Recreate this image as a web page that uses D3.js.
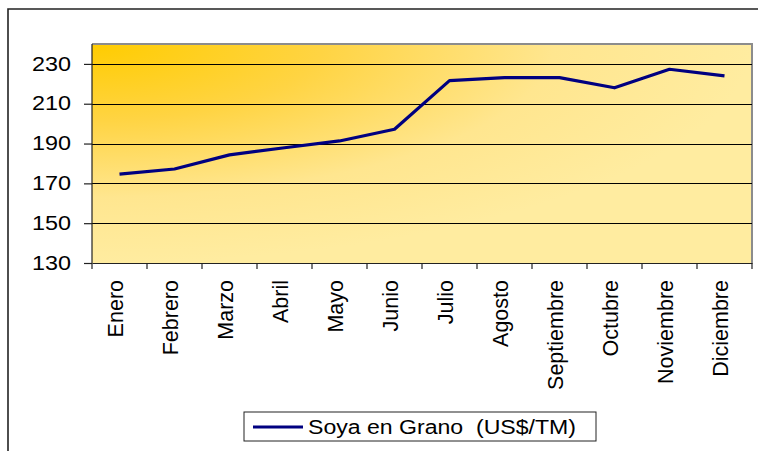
<!DOCTYPE html>
<html>
<head>
<meta charset="utf-8">
<script src="https://cdn.jsdelivr.net/npm/d3@7"></script>
<style>
  body { margin: 0; background: #fff; }
  svg { display: block; font-family: Arial, "Liberation Sans", sans-serif; }
  .grid line { stroke: #000; stroke-width: 1; }
  .axis path, .axis line { stroke: #222; stroke-width: 1.2; }
  .axis text { fill: #000; }
</style>
</head>
<body>
<svg width="758" height="451"></svg>
<script>
// data
var months = ["Enero", "Febrero", "Marzo", "Abril", "Mayo", "Junio",
              "Julio", "Agosto", "Septiembre", "Octubre", "Noviembre", "Diciembre"];
var soya = [174.6, 177.2, 184.3, 187.9, 191.3, 197.2, 221.6, 223.1, 223.1, 218.0, 227.3, 224.0];
var yTicks = [130, 150, 170, 190, 210, 230];
var seriesName = "Soya en Grano  (US$/TM)";

var svg = d3.select("svg");
var margin = {left: 92, top: 44, right: 6, bottom: 188};
var W = 758 - margin.left - margin.right,   // 660
    H = 451 - margin.top - margin.bottom;   // 219

// outer frame (only top and left visible)
svg.append("path")
  .attr("d", "M8,452 L8,9 L760,9")
  .attr("fill", "none").attr("stroke", "#222").attr("stroke-width", 1.6);

var defs = svg.append("defs");
var grad = defs.append("radialGradient")
  .attr("id", "bg").attr("cx", 0).attr("cy", 0).attr("r", 1.0)
  .attr("fx", 0).attr("fy", 0);
grad.append("stop").attr("offset", "0").attr("stop-color", "#ffcc00");
grad.append("stop").attr("offset", "0.35").attr("stop-color", "#ffd443");
grad.append("stop").attr("offset", "0.7").attr("stop-color", "#ffe68f");
grad.append("stop").attr("offset", "1").attr("stop-color", "#ffeca0");

var x = d3.scaleBand().domain(months).range([0, W]);
var y = d3.scaleLinear().domain([130, 240]).range([H, 0]);

var g = svg.append("g").attr("transform", "translate(" + margin.left + "," + margin.top + ")");

g.append("rect").attr("width", W).attr("height", H).attr("fill", "url(#bg)");
// plot border top / right in gray
g.append("path").attr("d", "M0,0 L" + W + ",0 L" + W + "," + H)
  .attr("fill", "none").attr("stroke", "#8c8c8c").attr("stroke-width", 2);

g.append("g").attr("class", "grid")
  .selectAll("line").data(yTicks.slice(1)).enter().append("line")
  .attr("x1", 0).attr("x2", W)
  .attr("y1", function(d) { return Math.round(y(d)) + 0.5; })
  .attr("y2", function(d) { return Math.round(y(d)) + 0.5; });

// y axis
var ya = g.append("g").attr("class", "axis")
  .call(d3.axisLeft(y).tickValues(yTicks).tickSize(8).tickSizeOuter(0).tickPadding(0));
ya.select(".domain").attr("d", "M0," + H + "V0");
ya.selectAll("text")
  .attr("font-size", 19.5)
  .attr("text-anchor", "end")
  .attr("x", 0)
  .attr("transform", "translate(-21,0) scale(1.2,1)");

// x axis
var xa = g.append("g").attr("class", "axis")
  .attr("transform", "translate(0," + H + ")")
  .call(d3.axisBottom(x).tickSize(0).tickSizeOuter(0));
xa.selectAll(".tick line").remove();
xa.selectAll(".band").data(d3.range(months.length + 1)).enter().append("line")
  .attr("x1", function(i) { return i * x.step(); })
  .attr("x2", function(i) { return i * x.step(); })
  .attr("y1", 0).attr("y2", 6)
  .attr("stroke", "#222").attr("stroke-width", 1.2);
xa.selectAll(".tick text")
  .attr("font-size", 21.5)
  .attr("text-anchor", "end")
  .attr("x", 0).attr("y", 0).attr("dy", "0.36em")
  .attr("transform", "translate(-4,17) rotate(-90)");

// line
var line = d3.line()
  .x(function(d, i) { return x(months[i]) + x.bandwidth() / 2; })
  .y(function(d) { return y(d); });
g.append("path").datum(soya)
  .attr("d", line)
  .attr("fill", "none").attr("stroke", "#000080").attr("stroke-width", 3.2)
  .attr("stroke-linejoin", "round");

// legend
var lg = svg.append("g").attr("transform", "translate(244,412)");
lg.append("rect").attr("width", 352).attr("height", 29)
  .attr("fill", "#fff").attr("stroke", "#222").attr("stroke-width", 1);
lg.append("line").attr("x1", 9).attr("x2", 59).attr("y1", 15).attr("y2", 15)
  .attr("stroke", "#000080").attr("stroke-width", 3.2);
lg.append("text").attr("x", 64).attr("y", 22)
  .attr("font-size", 19.5)
  .attr("textLength", 268).attr("lengthAdjust", "spacingAndGlyphs")
  .style("white-space", "pre")
  .text(seriesName);
</script>
</body>
</html>
